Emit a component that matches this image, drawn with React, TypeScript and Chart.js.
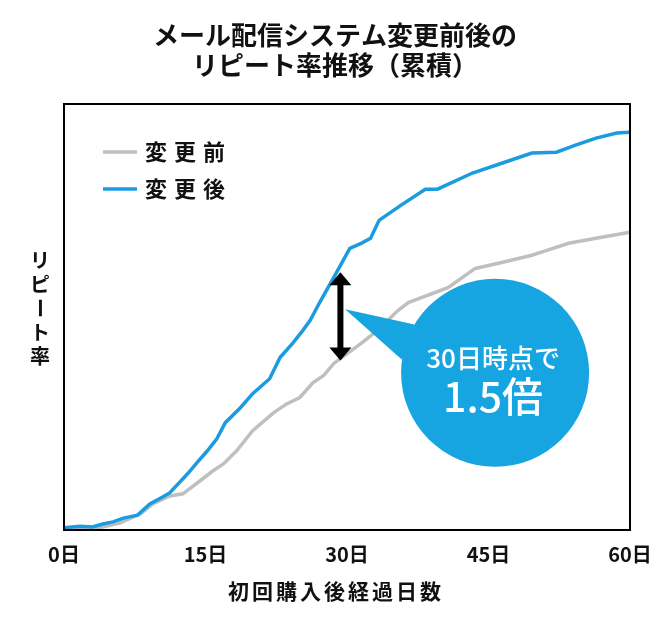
import React, { useEffect, useRef } from 'react';
import { Chart, registerables } from 'chart.js';

Chart.register(...registerables);

const FONT = "'Noto Sans CJK JP', 'Noto Sans', sans-serif";

const TITLE_LINES = ['メール配信システム変更前後の', 'リピート率推移（累積）'];
const X_TITLE = '初回購入後経過日数';
const Y_TITLE = 'リピート率';
const X_TICKS = [0, 15, 30, 45, 60];
const TICK_SUFFIX = '日';
const SERIES_LABELS = ['変更前', '変更後'];
const SERIES_COLORS = ['#bfbfbf', '#1b9be0'];

const BEFORE_DAYS = [0, 3.1, 5.9, 8.1, 9.4, 11.2, 12.6, 14.4, 15.8, 16.9, 18.3, 20.0, 22.2, 23.6, 25.0, 26.4, 27.5, 28.6, 31.5, 33.2, 35.4, 36.5, 40.7, 43.6, 46.4, 49.6, 51.1, 53.5, 56.4, 60];
const BEFORE_VALUES = [0, 0.2, 1.6, 3.8, 6.1, 8.0, 8.5, 11.5, 13.9, 15.5, 18.6, 23.3, 27.5, 29.6, 31.1, 34.6, 36.2, 39.1, 43.8, 46.8, 51.5, 53.4, 56.9, 61.4, 62.8, 64.5, 65.6, 67.3, 68.5, 69.9];

const AFTER_DAYS = [0, 1.7, 3.0, 4.1, 5.2, 6.3, 7.8, 9.1, 10.5, 11.2, 13.1, 14.1, 15.2, 16.2, 17.1, 18.7, 20.0, 21.8, 22.9, 24.3, 25.3, 26.1, 27.1, 28.6, 30.3, 31.5, 32.5, 33.4, 35.7, 38.3, 39.6, 43.3, 46.4, 49.6, 52.2, 54.3, 56.4, 58.6, 60];
const AFTER_VALUES = [0.5, 0.9, 0.7, 1.4, 1.9, 2.8, 3.5, 6.1, 7.8, 8.7, 13.2, 15.8, 18.6, 21.4, 25.2, 28.7, 32.0, 35.5, 40.5, 44.0, 46.8, 49.2, 53.4, 59.3, 66.1, 67.3, 68.5, 72.7, 76.2, 80.0, 80.0, 83.8, 86.1, 88.5, 88.7, 90.4, 92.0, 93.2, 93.4];

// annotation: double arrow at 30 days, callout bubble
const ARROW_DAY = 29.3;
const ARROW_TOP = 60.5;
const ARROW_BOTTOM = 39.8;
const CALLOUT_LINES = ['30日時点で', '1.5倍'];
const CALLOUT_DAY = 45.7;
const CALLOUT_VALUE = 36.9;
const CALLOUT_TAIL_DAY = 29.8;
const CALLOUT_TAIL_VALUE = 51.8;
const CALLOUT_COLOR = '#17a5e2';

const overlayPlugin = {
  id: 'overlay',
  afterDatasetsDraw(chart: any) {
    const { ctx, chartArea: a, scales } = chart;
    const x = scales.x;
    const y = scales.y;
    ctx.save();

    // plot frame
    ctx.strokeStyle = '#000';
    ctx.lineWidth = 2;
    ctx.strokeRect(a.left, a.top, a.right - a.left, a.bottom - a.top);

    // legend
    const sets = chart.data.datasets;
    const lx = a.left + 39;
    const ly0 = a.top + 48;
    sets.forEach((ds: any, i: number) => {
      const ly = ly0 + i * 37;
      ctx.strokeStyle = ds.borderColor;
      ctx.lineWidth = 3.5;
      ctx.beginPath();
      ctx.moveTo(lx, ly);
      ctx.lineTo(lx + 34, ly);
      ctx.stroke();
      ctx.fillStyle = '#111';
      ctx.font = `bold 22px ${FONT}`;
      (ctx as any).letterSpacing = '7px';
      ctx.textAlign = 'left';
      ctx.textBaseline = 'middle';
      ctx.fillText(ds.label, lx + 42, ly);
      (ctx as any).letterSpacing = '0px';
    });

    // double arrow
    const ax = x.getPixelForValue(ARROW_DAY);
    const at = y.getPixelForValue(ARROW_TOP);
    const ab = y.getPixelForValue(ARROW_BOTTOM);
    ctx.fillStyle = '#000';
    ctx.fillRect(ax - 3, at + 10, 6, ab - at - 20);
    ctx.beginPath();
    ctx.moveTo(ax, at);
    ctx.lineTo(ax + 11, at + 13);
    ctx.lineTo(ax - 11, at + 13);
    ctx.closePath();
    ctx.fill();
    ctx.beginPath();
    ctx.moveTo(ax, ab);
    ctx.lineTo(ax + 11, ab - 13);
    ctx.lineTo(ax - 11, ab - 13);
    ctx.closePath();
    ctx.fill();

    // callout
    const cx = x.getPixelForValue(CALLOUT_DAY);
    const cy = y.getPixelForValue(CALLOUT_VALUE);
    const tx = x.getPixelForValue(CALLOUT_TAIL_DAY);
    const ty = y.getPixelForValue(CALLOUT_TAIL_VALUE);
    const r = 94;
    const a1 = (211 * Math.PI) / 180;
    const a2 = (188 * Math.PI) / 180;
    ctx.fillStyle = CALLOUT_COLOR;
    ctx.beginPath();
    ctx.moveTo(tx, ty);
    ctx.lineTo(cx + r * Math.cos(a1), cy + r * Math.sin(a1));
    ctx.lineTo(cx + r * Math.cos(a2), cy + r * Math.sin(a2));
    ctx.closePath();
    ctx.fill();
    ctx.beginPath();
    ctx.arc(cx, cy, r, 0, Math.PI * 2);
    ctx.fill();
    ctx.fillStyle = '#fff';
    ctx.textAlign = 'center';
    ctx.textBaseline = 'middle';
    ctx.font = `500 26px ${FONT}`;
    ctx.fillText(CALLOUT_LINES[0], cx - 2, cy - 15);
    ctx.font = `500 41px ${FONT}`;
    ctx.fillText(CALLOUT_LINES[1], cx - 2, cy + 24);

    // y-axis title (vertical writing)
    ctx.fillStyle = '#111';
    ctx.font = `bold 20px ${FONT}`;
    const chars = Array.from(Y_TITLE);
    const midY = (a.top + a.bottom) / 2 - 9;
    const yx = a.left - 24;
    chars.forEach((c, i) => {
      const cyy = midY + (i - (chars.length - 1) / 2) * 24;
      if (c === 'ー') {
        ctx.save();
        ctx.translate(yx, cyy);
        ctx.rotate(Math.PI / 2);
        ctx.fillText(c, 0, 0);
        ctx.restore();
      } else {
        ctx.fillText(c, yx, cyy);
      }
    });

    // x-axis title
    ctx.font = `bold 21px ${FONT}`;
    (ctx as any).letterSpacing = '3px';
    ctx.fillText(X_TITLE, chart.width / 2 + 1, a.bottom + 61);
    (ctx as any).letterSpacing = '0px';

    ctx.restore();
  },
};

export default function App() {
  const ref = useRef<HTMLCanvasElement | null>(null);

  useEffect(() => {
    if (!ref.current) return;
    const chart = new Chart(ref.current, {
      type: 'line',
      data: {
        datasets: [
          {
            label: SERIES_LABELS[0],
            data: BEFORE_DAYS.map((d, i) => ({ x: d, y: BEFORE_VALUES[i] })),
            borderColor: SERIES_COLORS[0],
            borderWidth: 3.5,
            pointRadius: 0,
            tension: 0,
            order: 1,
          },
          {
            label: SERIES_LABELS[1],
            data: AFTER_DAYS.map((d, i) => ({ x: d, y: AFTER_VALUES[i] })),
            borderColor: SERIES_COLORS[1],
            borderWidth: 3.5,
            pointRadius: 0,
            tension: 0,
            order: 0,
          },
        ],
      },
      options: {
        responsive: false,
        animation: false,
        layout: { padding: { left: 40, right: 40, top: 0, bottom: 45 } },
        plugins: {
          legend: { display: false },
          tooltip: { enabled: false },
          title: {
            display: true,
            text: TITLE_LINES,
            color: '#111',
            font: { family: FONT, size: 26, weight: 'bold', lineHeight: 1.154 },
            padding: { top: 20, bottom: 24 },
          },
        },
        scales: {
          x: {
            type: 'linear',
            min: 0,
            max: 60,
            afterBuildTicks: (s: any) => {
              s.ticks = X_TICKS.map((v) => ({ value: v }));
            },
            ticks: {
              callback: (v: any) => `${v}${TICK_SUFFIX}`,
              color: '#111',
              font: { family: FONT, size: 20, weight: 'bold' },
              padding: 12,
              maxRotation: 0,
            },
            grid: { display: false, drawTicks: false },
            border: { display: false },
          },
          y: {
            min: 0,
            max: 100,
            ticks: { display: false },
            grid: { display: false, drawTicks: false },
            border: { display: false },
            afterFit: (s: any) => {
              s.width = 24;
            },
          },
        },
      },
      plugins: [overlayPlugin],
    });
    return () => chart.destroy();
  }, []);

  return (
    <div style={{ position: 'absolute', left: 0, top: 0, width: 670, height: 623, background: '#fff' }}>
      <canvas ref={ref} width={670} height={623} style={{ display: 'block', width: 670, height: 623 }} />
    </div>
  );
}
